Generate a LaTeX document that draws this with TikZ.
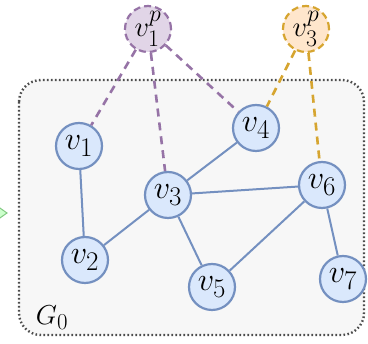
\documentclass[tikz,border=0pt]{standalone}
\usepackage{amsmath, amssymb}
\usepackage{tikz}
\usetikzlibrary{arrows.meta}
\usetikzlibrary{positioning}
\usepackage{xcolor}
\definecolor{vfill}{HTML}{DAE8FC}
\definecolor{vline}{HTML}{7490C0}
\definecolor{pfill}{HTML}{E1D5E7}
\definecolor{pline}{HTML}{9673A6}
\definecolor{ofill}{HTML}{FFE6CC}
\definecolor{oline}{HTML}{D6A530}
\definecolor{boxfill}{HTML}{F7F7F7}
\newcommand{\vlab}[1]{\scalebox{1.3}{$#1$}}
\newcommand{\plab}[1]{\raisebox{-3pt}{\scalebox{1.15}{$#1$}}}
\tikzset{
    vert/.style={
        draw=vline,
        circle,
        fill=vfill,
        line width=2.2pt,
        minimum size=46pt,
        inner sep=0pt,
        font=\fontsize{24.88}{28}\selectfont
    },
    pvert/.style={
        vert,
        dash pattern=on 7pt off 4pt
    },
    link/.style={
        draw=vline,
        line width=2pt
    },
    plink/.style={
        line width=2.6pt,
        dash pattern=on 8pt off 6pt
    }
}

\begin{document}
\begin{tikzpicture}[x=1pt, y=-1pt]
    \useasboundingbox (0,0) rectangle (368,344);
    % Subgraph box
    \draw[fill=boxfill, draw=gray!60!black, line width=2.4pt,
        dash pattern=on 1.6pt off 2.4pt, rounded corners=22pt]
        (19,80) rectangle (364,335);
    \node[font=\fontsize{24.88}{28}\selectfont] (g0) at (52,318) {\scalebox{1.1}{$G_0$}};
    % Arrow tip coming in from the left
    \fill[green!20!white, draw=green!40!gray!70, line width=1pt]
        (-10,201) -- (7,213) -- (-10,225) -- cycle;

    % Prompt vertices
    \node[pvert, fill=pfill, draw=pline] (p1) at (148,29) {\plab{v_1^p}};
    \node[pvert, fill=ofill, draw=oline] (p3) at (306,29) {\plab{v_3^p}};

    % Vertices
    \node[vert] (v1) at (79,146) {\vlab{v_1}};
    \node[vert] (v4) at (256,128) {\vlab{v_4}};
    \node[vert] (v3) at (168,195) {\vlab{v_3}};
    \node[vert] (v6) at (322,185) {\vlab{v_6}};
    \node[vert] (v2) at (85,260) {\vlab{v_2}};
    \node[vert] (v5) at (212,287) {\vlab{v_5}};
    \node[vert] (v7) at (343,279) {\vlab{v_7}};

    % Prompt edges
    \draw[plink, pline] (p1) -- (v1);
    \draw[plink, pline] (p1) -- (v3);
    \draw[plink, pline] (p1) -- (v4);
    \draw[plink, oline] (p3) -- (v4);
    \draw[plink, oline] (p3) -- (v6);

    % Edges
    \draw[link] (v1) -- (v2);
    \draw[link] (v2) -- (v3);
    \draw[link] (v3) -- (v4);
    \draw[link] (v3) -- (v6);
    \draw[link] (v3) -- (v5);
    \draw[link] (v5) -- (v6);
    \draw[link] (v6) -- (v7);
\end{tikzpicture}
\end{document}
